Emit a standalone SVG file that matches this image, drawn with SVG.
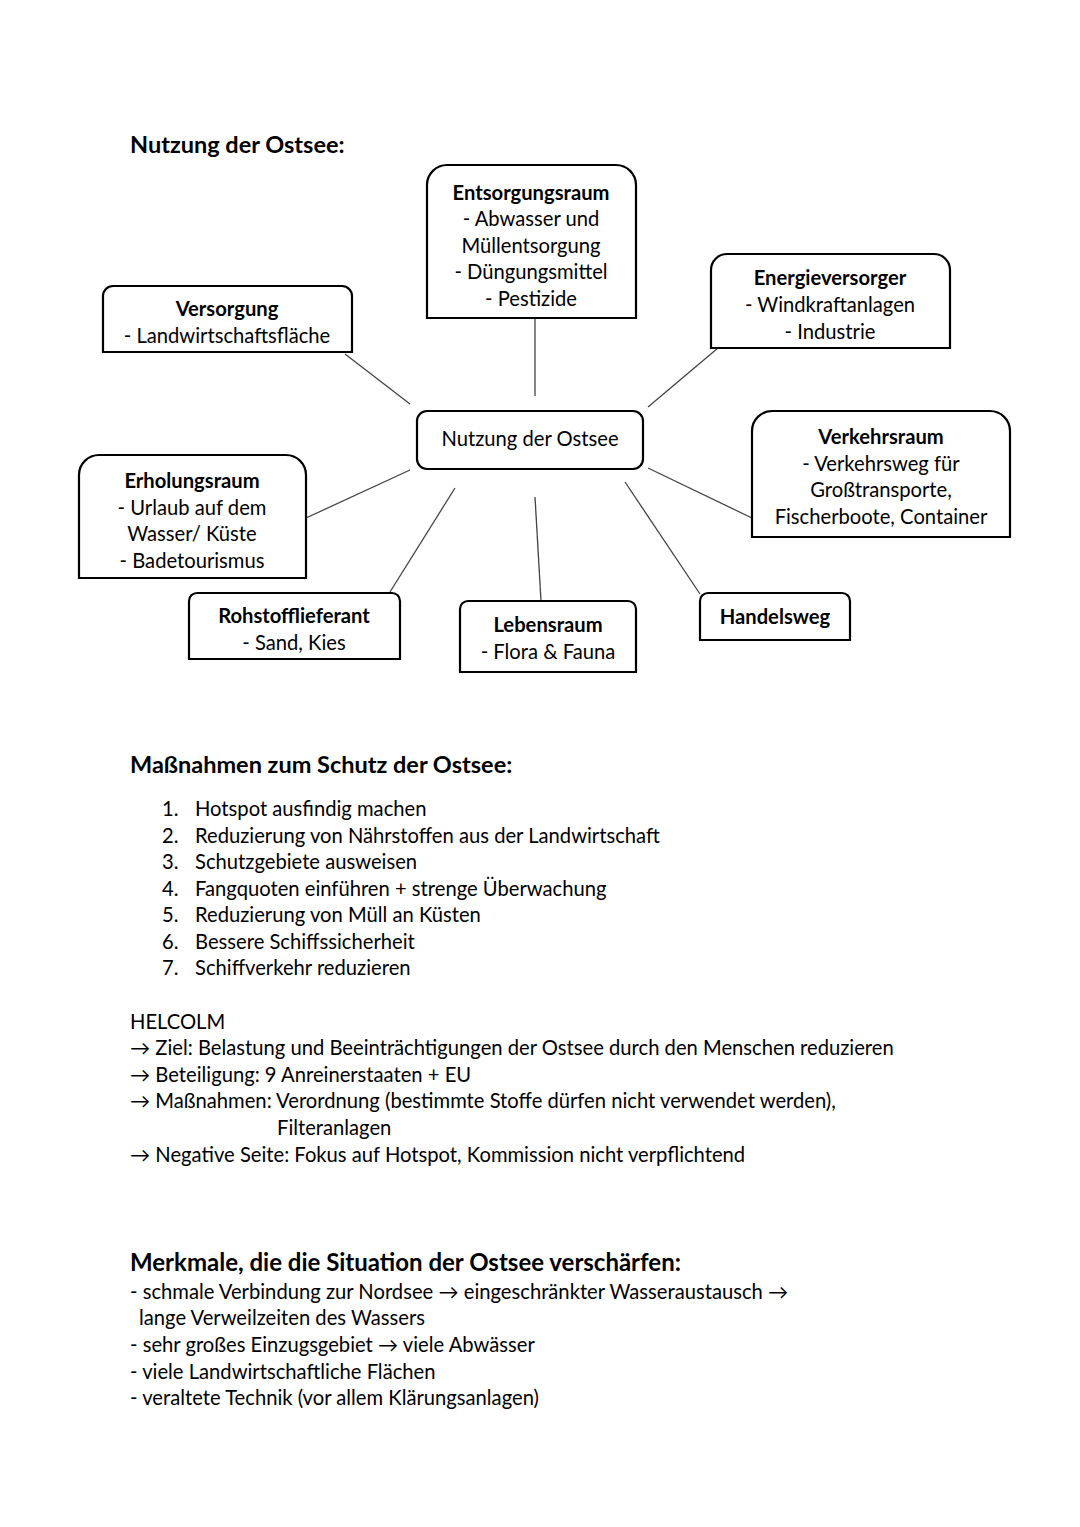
<svg xmlns="http://www.w3.org/2000/svg" width="1080" height="1527" viewBox="0 0 1080 1527">
<style>
text{font-family:Lato,"Open Sans","Liberation Sans",sans-serif;font-size:20.2px;fill:#000}
.b{font-weight:bold}
.c{text-anchor:middle}
.h{font-size:23.5px;font-weight:bold}
.h2{font-size:24px;font-weight:bold}
.box{fill:#fff;stroke:#000;stroke-width:2.2}
.con line{stroke:#444;stroke-width:1.3}
</style>
<rect width="1080" height="1527" fill="#fff"/>
<text class="h" x="130" y="153">Nutzung der Ostsee:</text>
<g class="con" id="connectors">
<line x1="345" y1="354" x2="410" y2="404"/>
<line x1="535" y1="318" x2="535" y2="396"/>
<line x1="718" y1="348" x2="648" y2="407"/>
<line x1="648" y1="468" x2="752" y2="518"/>
<line x1="625" y1="482" x2="700" y2="594"/>
<line x1="535" y1="497" x2="541" y2="601"/>
<line x1="455" y1="488" x2="390" y2="592"/>
<line x1="410" y1="470" x2="306" y2="518"/>
</g>
<g id="entsorgungsraum">
<path class="box" d="M427 318 V185 A20 20 0 0 1 447 165 H616 A20 20 0 0 1 636 185 V318 Z"/>
<text class="c b" x="531" y="200">Entsorgungsraum</text>
<text class="c" x="531" y="226">- Abwasser und</text>
<text class="c" x="531" y="253">Müllentsorgung</text>
<text class="c" x="531" y="279">- Düngungsmittel</text>
<text class="c" x="531" y="306">- Pestizide</text>
</g>
<g id="versorgung">
<path class="box" d="M103 352 V296 A10 10 0 0 1 113 286 H342 A10 10 0 0 1 352 296 V352 Z"/>
<text class="c b" x="227" y="316">Versorgung</text>
<text class="c" x="227" y="343">- Landwirtschaftsfläche</text>
</g>
<g id="energieversorger">
<path class="box" d="M711 348 V270 A16 16 0 0 1 727 254 H934 A16 16 0 0 1 950 270 V348 Z"/>
<text class="c b" x="830" y="285">Energieversorger</text>
<text class="c" x="830" y="312">- Windkraftanlagen</text>
<text class="c" x="830" y="339">- Industrie</text>
</g>
<g id="zentrum">
<rect class="box" x="417" y="411" width="226" height="58" rx="10"/>
<text class="c" x="530" y="446">Nutzung der Ostsee</text>
</g>
<g id="verkehrsraum">
<path class="box" d="M752 537 V431 A20 20 0 0 1 772 411 H990 A20 20 0 0 1 1010 431 V537 Z"/>
<text class="c b" x="881" y="444">Verkehrsraum</text>
<text class="c" x="881" y="471">- Verkehrsweg für</text>
<text class="c" x="881" y="497">Großtransporte,</text>
<text class="c" x="881" y="524">Fischerboote, Container</text>
</g>
<g id="erholungsraum">
<path class="box" d="M79 578 V475 A20 20 0 0 1 99 455 H286 A20 20 0 0 1 306 475 V578 Z"/>
<text class="c b" x="192" y="488">Erholungsraum</text>
<text class="c" x="192" y="515">- Urlaub auf dem</text>
<text class="c" x="192" y="541">Wasser/ Küste</text>
<text class="c" x="192" y="568">- Badetourismus</text>
</g>
<g id="rohstofflieferant">
<path class="box" d="M189 659 V601 A8 8 0 0 1 197 593 H392 A8 8 0 0 1 400 601 V659 Z"/>
<text class="c b" x="294" y="623">Rohstofflieferant</text>
<text class="c" x="294" y="650">- Sand, Kies</text>
</g>
<g id="lebensraum">
<path class="box" d="M460 672 V609 A8 8 0 0 1 468 601 H628 A8 8 0 0 1 636 609 V672 Z"/>
<text class="c b" x="548" y="632">Lebensraum</text>
<text class="c" x="548" y="659">- Flora &amp; Fauna</text>
</g>
<g id="handelsweg">
<path class="box" d="M700 640 V601 A8 8 0 0 1 708 593 H842 A8 8 0 0 1 850 601 V640 Z"/>
<text class="c b" x="775" y="624">Handelsweg</text>
</g>
<text class="h" x="130" y="773">Maßnahmen zum Schutz der Ostsee:</text>
<g id="massnahmen">
<text x="162" y="816">1.</text><text x="195" y="816">Hotspot ausfindig machen</text>
<text x="162" y="843">2.</text><text x="195" y="843">Reduzierung von Nährstoffen aus der Landwirtschaft</text>
<text x="162" y="869">3.</text><text x="195" y="869">Schutzgebiete ausweisen</text>
<text x="162" y="896">4.</text><text x="195" y="896">Fangquoten einführen + strenge Überwachung</text>
<text x="162" y="922">5.</text><text x="195" y="922">Reduzierung von Müll an Küsten</text>
<text x="162" y="949">6.</text><text x="195" y="949">Bessere Schiffssicherheit</text>
<text x="162" y="975">7.</text><text x="195" y="975">Schiffverkehr reduzieren</text>
</g>
<g id="helcolm">
<text x="130" y="1029">HELCOLM</text>
<text x="130" y="1055">→ Ziel: Belastung und Beeinträchtigungen der Ostsee durch den Menschen reduzieren</text>
<text x="130" y="1082">→ Beteiligung: 9 Anreinerstaaten + EU</text>
<text x="130" y="1108">→ Maßnahmen: Verordnung (bestimmte Stoffe dürfen nicht verwendet werden),</text>
<text x="277" y="1135">Filteranlagen</text>
<text x="130" y="1162">→ Negative Seite: Fokus auf Hotspot, Kommission nicht verpflichtend</text>
</g>
<text class="h2" x="130" y="1271">Merkmale, die die Situation der Ostsee verschärfen:</text>
<g id="merkmale">
<text x="130" y="1299">- schmale Verbindung zur Nordsee → eingeschränkter Wasseraustausch →</text>
<text x="139" y="1325">lange Verweilzeiten des Wassers</text>
<text x="130" y="1352">- sehr großes Einzugsgebiet → viele Abwässer</text>
<text x="130" y="1379">- viele Landwirtschaftliche Flächen</text>
<text x="130" y="1405">- veraltete Technik (vor allem Klärungsanlagen)</text>
</g>
</svg>
